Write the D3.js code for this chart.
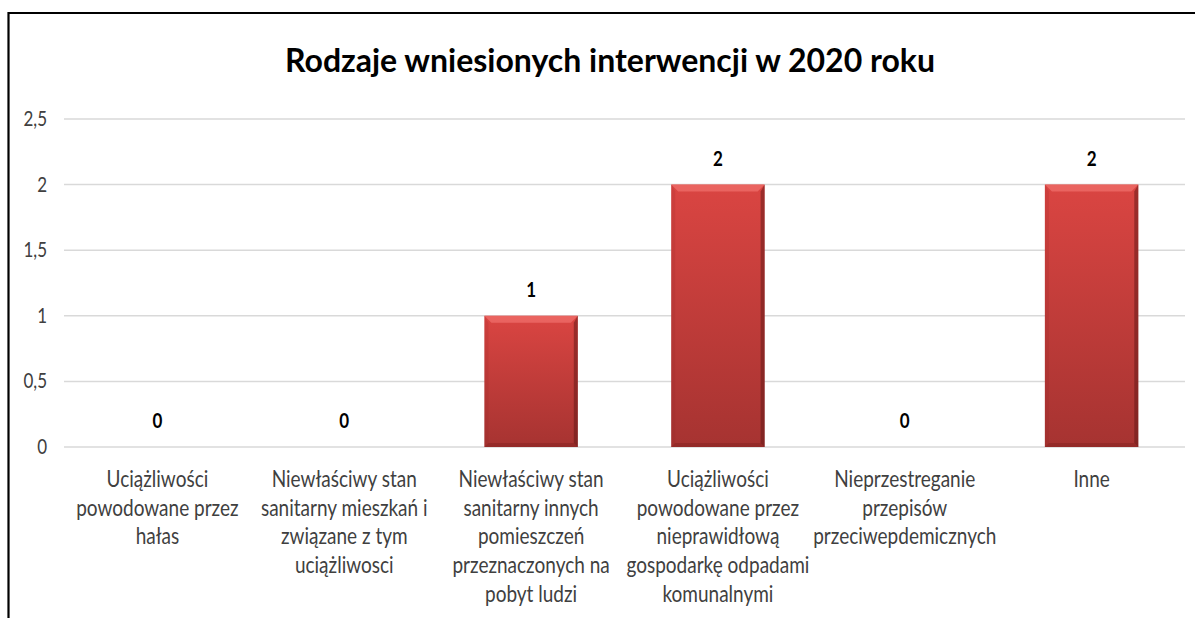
<!DOCTYPE html>
<html>
<head>
<meta charset="utf-8">
<script src="https://cdn.jsdelivr.net/npm/d3@7"></script>
<style>
  body { margin: 0; background: #fff; }
  svg text { font-family: Lato, "Open Sans", sans-serif; }
</style>
</head>
<body>
<div id="chart"></div>
<script>
// dane z wykresu
const categories = [
  ["Uciążliwości", "powodowane przez", "hałas"],
  ["Niewłaściwy stan", "sanitarny mieszkań i", "związane z tym", "uciążliwosci"],
  ["Niewłaściwy stan", "sanitarny innych", "pomieszczeń", "przeznaczonych na", "pobyt ludzi"],
  ["Uciążliwości", "powodowane przez", "nieprawidłową", "gospodarkę odpadami", "komunalnymi"],
  ["Nieprzestreganie", "przepisów", "przeciwepdemicznych"],
  ["Inne"]
];
const values = [0, 0, 1, 2, 0, 2];
const yTicks = [0, 0.5, 1, 1.5, 2, 2.5];
const yTickLabels = ["0", "0,5", "1", "1,5", "2", "2,5"];
const title = "Rodzaje wniesionych interwencji w 2020 roku";

const W = 1195, H = 618;
const margin = {top: 119, left: 64},
    width = 1185 - margin.left,
    height = 447 - margin.top;
const stretch = 1.22; // tekst w oryginale jest wyższy niż szerszy

const svg = d3.select("#chart").append("svg")
    .attr("width", W)
    .attr("height", H);

// ramka
svg.append("path")
    .attr("d", "M8.5,618 V13 H1195")
    .attr("fill", "none")
    .attr("stroke", "#000")
    .attr("stroke-width", 2.2);

const defs = svg.append("defs");
const grad = defs.append("linearGradient").attr("id", "barGrad")
    .attr("x1", 0).attr("y1", 0).attr("x2", 0).attr("y2", 1);
grad.append("stop").attr("offset", "0%").attr("stop-color", "#da4542");
grad.append("stop").attr("offset", "100%").attr("stop-color", "#a63331");

const g = svg.append("g")
    .attr("transform", "translate(" + margin.left + "," + margin.top + ")");

const x = d3.scaleBand()
    .domain(d3.range(categories.length))
    .range([0, width])
    .paddingInner(0.5)
    .paddingOuter(0.25);

const y = d3.scaleLinear()
    .domain([0, 2.5])
    .range([height, 0]);

// linie siatki
g.selectAll(".grid")
    .data(yTicks)
  .enter().append("line")
    .attr("class", "grid")
    .attr("x1", 0)
    .attr("x2", width)
    .attr("y1", d => y(d))
    .attr("y2", d => y(d))
    .attr("stroke", "#d9d9d9")
    .attr("stroke-width", 1.5);

// oś Y
g.selectAll(".ytick")
    .data(yTicks)
  .enter().append("text")
    .attr("class", "ytick")
    .attr("transform", d => `translate(-17,${y(d) + 7}) scale(1,${stretch})`)
    .attr("text-anchor", "end")
    .attr("fill", "#404040")
    .style("font-size", "17px")
    .text((d, i) => yTickLabels[i]);

// słupki
const bars = g.selectAll(".bar")
    .data(values.map((v, i) => ({i, v})).filter(d => d.v > 0))
  .enter().append("g")
    .attr("class", "bar");

bars.append("rect")
    .attr("x", d => x(d.i))
    .attr("y", d => y(d.v))
    .attr("width", x.bandwidth())
    .attr("height", d => height - y(d.v))
    .attr("fill", "url(#barGrad)");

// efekt fazowania
const bev = 7, side = 4;
bars.append("path")
    .attr("d", d => {
      const x0 = x(d.i), x1 = x0 + x.bandwidth(), y0 = y(d.v);
      return `M${x0},${y0} H${x1} L${x1 - bev},${y0 + bev} H${x0 + bev} Z`;
    })
    .attr("fill", "#ee6c68")
    .attr("opacity", 0.8);
bars.append("path")
    .attr("d", d => {
      const x0 = x(d.i), y0 = y(d.v);
      return `M${x0},${y0} L${x0 + side},${y0 + bev} V${height - side} L${x0},${height} Z`;
    })
    .attr("fill", "#8c2321")
    .attr("opacity", 0.15);
bars.append("path")
    .attr("d", d => {
      const x1 = x(d.i) + x.bandwidth(), y0 = y(d.v);
      return `M${x1},${y0} L${x1 - side},${y0 + bev} V${height - side} L${x1},${height} Z`;
    })
    .attr("fill", "#5e1513")
    .attr("opacity", 0.5);
bars.append("path")
    .attr("d", d => {
      const x0 = x(d.i), x1 = x0 + x.bandwidth();
      return `M${x0},${height} L${x0 + side},${height - side} H${x1 - side} L${x1},${height} Z`;
    })
    .attr("fill", "#7a1e1c")
    .attr("opacity", 0.4);

// etykiety wartości
g.selectAll(".labels")
    .data(values)
  .enter().append("text")
    .attr("class", "labels")
    .attr("transform", (d, i) => `translate(${x(i) + x.bandwidth() / 2},${y(d) - 19}) scale(1,${stretch})`)
    .attr("text-anchor", "middle")
    .attr("fill", "#000")
    .style("font-size", "17px")
    .style("font-weight", "bold")
    .text(d => d);

// etykiety kategorii
categories.forEach((lines, i) => {
  g.selectAll(".cat" + i)
      .data(lines)
    .enter().append("text")
      .attr("class", "cat" + i)
      .attr("transform", (t, j) => `translate(${x(i) + x.bandwidth() / 2},${height + 40 + j * 28.7}) scale(1,${stretch})`)
      .attr("text-anchor", "middle")
      .attr("fill", "#404040")
      .style("font-size", "19px")
      .text(t => t);
});

// tytuł
svg.append("text")
    .attr("x", 610)
    .attr("y", 72)
    .attr("text-anchor", "middle")
    .attr("fill", "#000")
    .style("font-size", "32px")
    .style("font-weight", "bold")
    .text(title);
</script>
</body>
</html>
